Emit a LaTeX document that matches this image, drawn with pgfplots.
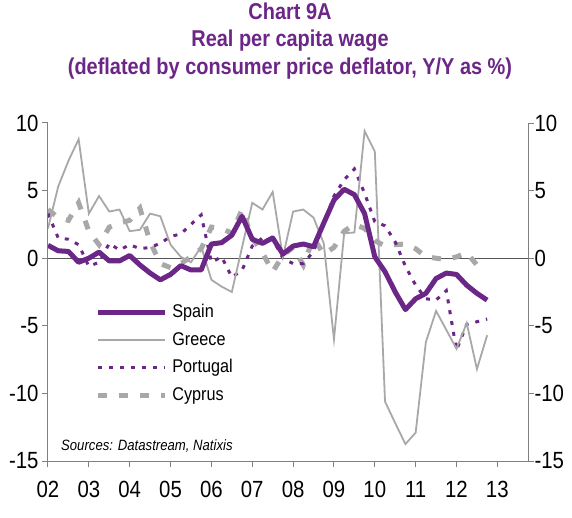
\documentclass[border=0pt]{standalone}
\usepackage{fontspec}
\setmainfont{Liberation Sans}[FakeStretch=0.87]
\newfontfamily\legfont{Liberation Sans}[FakeStretch=0.88]
\usepackage{pgfplots}
\usepackage{pgfplotstable}
\pgfplotsset{compat=1.18}
\definecolor{cpurple}{RGB}{107,38,135}
\definecolor{cgray}{RGB}{168,168,168}
\definecolor{axisgray}{RGB}{128,128,128}
\definecolor{zerogray}{RGB}{85,85,85}

\pgfplotstableread{
t s
2002.00 0.95
2002.25 0.55
2002.50 0.5
2002.75 -0.3
2003.00 0.0
2003.25 0.45
2003.50 -0.2
2003.75 -0.2
2004.00 0.2
2004.25 -0.5
2004.50 -1.1
2004.75 -1.6
2005.00 -1.2
2005.25 -0.55
2005.50 -0.87
2005.75 -0.87
2006.00 1.05
2006.25 1.15
2006.50 1.7
2006.75 3.1
2007.00 1.4
2007.25 1.1
2007.50 1.5
2007.75 0.3
2008.00 0.9
2008.25 1.05
2008.50 0.85
2008.75 2.6
2009.00 4.3
2009.25 5.1
2009.50 4.7
2009.75 3.3
2010.00 0.1
2010.25 -1.0
2010.50 -2.5
2010.75 -3.8
2011.00 -3.0
2011.25 -2.6
2011.50 -1.5
2011.75 -1.1
2012.00 -1.2
2012.25 -2.0
2012.50 -2.6
2012.75 -3.1
}\spain

\pgfplotstableread{
t g
2002.00 2.2
2002.25 5.3
2002.50 7.2
2002.75 8.8
2003.00 3.3
2003.25 4.6
2003.50 3.45
2003.75 3.6
2004.00 2.0
2004.25 2.1
2004.50 3.3
2004.75 3.1
2005.00 1.0
2005.25 0.1
2005.50 -0.3
2005.75 0.86
2006.00 -1.6
2006.25 -2.1
2006.50 -2.5
2006.75 0.8
2007.00 4.1
2007.25 3.6
2007.50 4.9
2007.75 0.1
2008.00 3.45
2008.25 3.6
2008.50 3.0
2008.75 1.1
2009.00 -6.0
2009.25 1.85
2009.50 1.9
2009.75 9.4
2010.00 7.9
2010.25 -10.6
2010.50 -12.2
2010.75 -13.75
2011.00 -12.9
2011.25 -6.2
2011.50 -3.9
2011.75 -5.3
2012.00 -6.7
2012.25 -4.8
2012.50 -8.2
2012.75 -5.7
}\greece

\pgfplotstableread{
t p
2002.00 3.3
2002.25 1.5
2002.50 1.4
2002.75 1.0
2003.00 -0.6
2003.25 -0.3
2003.50 1.1
2003.75 0.6
2004.00 1.0
2004.25 0.7
2004.50 0.8
2004.75 1.1
2005.00 1.6
2005.25 1.8
2005.50 2.5
2005.75 3.2
2006.00 -0.3
2006.25 0.1
2006.50 -1.4
2006.75 -0.9
2007.00 0.9
2007.25 1.5
2007.50 1.4
2007.75 0.0
2008.00 -0.4
2008.25 -0.4
2008.50 0.5
2008.75 2.5
2009.00 4.6
2009.25 5.8
2009.50 6.6
2009.75 4.8
2010.00 2.7
2010.25 2.4
2010.50 1.2
2010.75 -0.6
2011.00 -2.0
2011.25 -3.0
2011.50 -3.1
2011.75 -2.4
2012.00 -6.8
2012.25 -4.9
2012.50 -4.7
2012.75 -4.5
}\portugal

\pgfplotstableread{
t c
2002.00 3.6
2002.25 3.0
2002.50 2.8
2002.75 4.1
2003.00 2.0
2003.25 1.0
2003.50 2.3
2003.75 2.6
2004.00 2.8
2004.25 3.7
2004.50 1.2
2004.75 -0.4
2005.00 -0.7
2005.25 -0.4
2005.50 0.1
2005.75 0.7
2006.00 2.3
2006.25 2.2
2006.50 1.85
2006.75 3.6
2007.00 1.5
2007.25 0.4
2007.50 -1.0
2007.75 0.2
2008.00 0.8
2008.25 -0.5
2008.50 1.5
2008.75 0.3
2009.00 0.8
2009.25 2.0
2009.50 2.5
2009.75 2.2
2010.00 1.3
2010.25 0.9
2010.50 1.0
2010.75 1.05
2011.00 0.7
2011.25 0.1
2011.50 0.0
2011.75 -0.1
2012.00 0.1
2012.25 0.4
2012.50 -0.5
}\cyprus

\begin{document}
\begin{tikzpicture}
\useasboundingbox (-48bp,-57bp) rectangle (524bp,461bp);
\begin{axis}[
  at={(0,0)}, anchor=south west,
  width=480bp, height=338bp, scale only axis,
  xmin=2002, xmax=2013.75, ymin=-15, ymax=10,
  axis x line=bottom, axis y line=left,
  axis line style={-, draw=axisgray, line width=1bp},
  xtick={2002,...,2013},
  xticklabels={02,03,04,05,06,07,08,09,10,11,12,13},
  ytick={-15,-10,-5,0,5,10},
  tick align=outside, major tick length=6bp,
  tick style={draw=axisgray, line width=1bp},
  tick label style={font=\fontsize{23.5}{27}\selectfont, text=black},
  /pgf/number format/assume math mode=true,
  xticklabel style={yshift=-11bp},
  legend image code/.code={\draw[#1] (0bp,0bp) -- (67bp,0bp);},
  reverse legend,
  legend cell align=left,
  legend style={at={(0.092,0.469)}, anchor=north west, draw=none, fill=none,
    font=\legfont\fontsize{18.5}{20}\selectfont,
    row sep=11.5bp, column sep=5bp,
    nodes={inner sep=0pt, text height=13bp, text depth=3bp}},
]
\draw[zerogray, line width=1bp] (axis cs:2002,0) -- (axis cs:2013.75,0);
\addplot[cgray, line width=5bp, dash pattern=on 9bp off 12bp] table[x=t,y=c] {\cyprus};
\addlegendentry{Cyprus}
\addplot[cpurple, line width=3bp, dash pattern=on 4bp off 7bp] table[x=t,y=p] {\portugal};
\addlegendentry{Portugal}
\addplot[cgray, line width=1.8bp] table[x=t,y=g] {\greece};
\addlegendentry{Greece}
\addplot[cpurple, line width=5bp, line join=round] table[x=t,y=s] {\spain};
\addlegendentry{Spain}
\node[anchor=base west, inner sep=0pt, font=\legfont\itshape\fontsize{15}{17}\selectfont] at (axis description cs:0.027,0.0325) {Sources: Datastream, Natixis};
\end{axis}
\begin{axis}[
  at={(0,0)}, anchor=south west,
  width=480bp, height=338bp, scale only axis,
  xmin=2002, xmax=2013.75, ymin=-15, ymax=10,
  axis x line=none, axis y line=right,
  axis line style={-, draw=axisgray, line width=1bp},
  ytick={-15,-10,-5,0,5,10},
  tick align=outside, major tick length=6bp,
  tick style={draw=axisgray, line width=1bp},
  tick label style={font=\fontsize{23.5}{27}\selectfont, text=black},
  /pgf/number format/assume math mode=true,
  yticklabel style={xshift=-3bp},
]
\end{axis}
\node[anchor=base, inner sep=0pt, text=cpurple, font=\bfseries\fontsize{23}{26}\selectfont] at (242bp,441.7bp) {Chart 9A};
\node[anchor=base, inner sep=0pt, text=cpurple, font=\bfseries\fontsize{23}{26}\selectfont] at (242bp,414.3bp) {Real per capita wage};
\node[anchor=base, inner sep=0pt, text=cpurple, font=\bfseries\fontsize{23}{26}\selectfont] at (242bp,386bp) {(deflated by consumer price deflator, Y/Y as \%)};
\end{tikzpicture}
\end{document}
